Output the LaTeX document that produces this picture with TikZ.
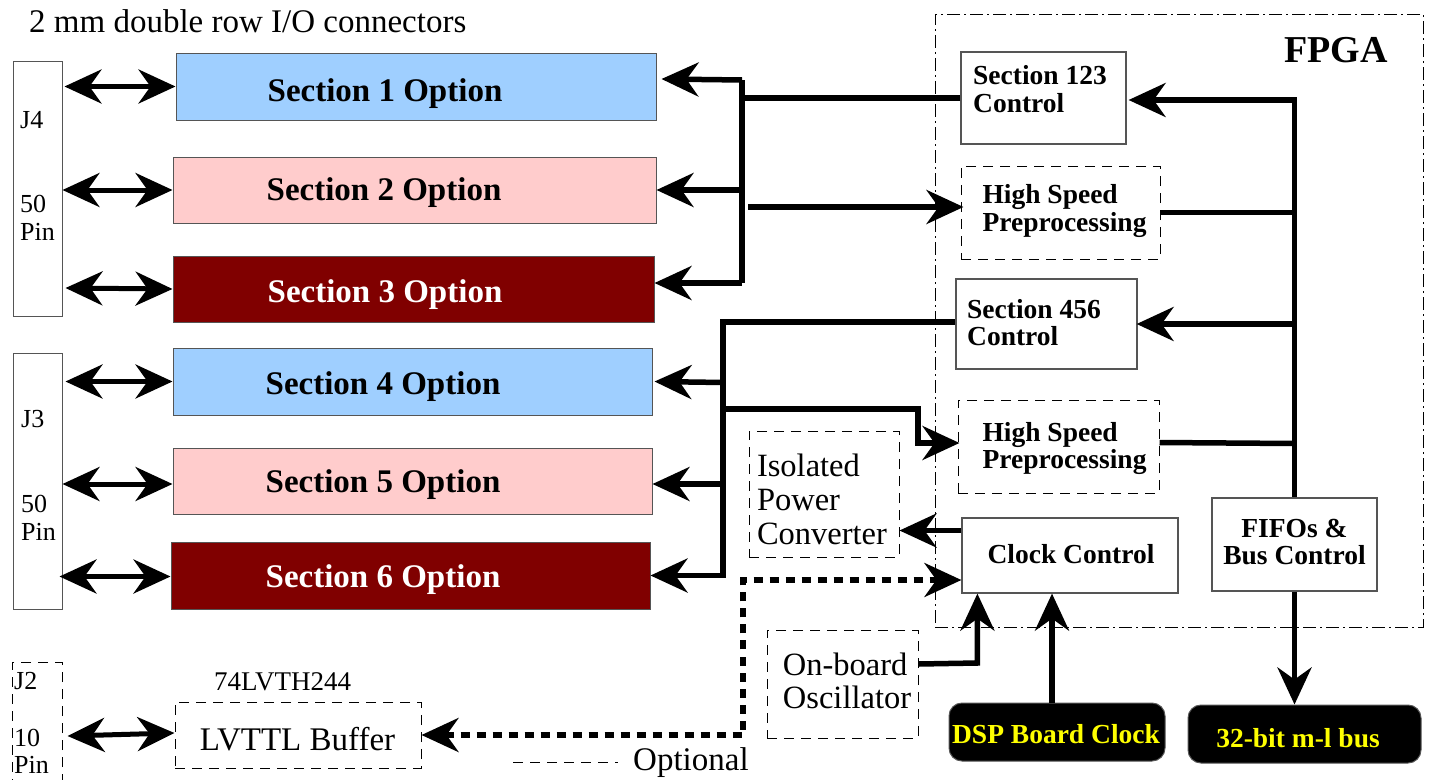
\documentclass[tikz,border=0pt]{standalone}
\usepackage{fontspec}
\setmainfont{Liberation Serif}
\usetikzlibrary{arrows.meta,calc}
\definecolor{secblue}{RGB}{159,207,255}
\definecolor{secpink}{RGB}{255,204,204}
\definecolor{secred}{RGB}{128,0,0}
\definecolor{boxgray}{RGB}{85,85,85}
\definecolor{txtyellow}{RGB}{255,255,0}
\begin{document}
\begin{tikzpicture}[x=1pt,y=-1pt,
  tip/.tip={Stealth[length=37pt,width=34pt,inset=12pt]},
  secbox/.style={draw=boxgray,line width=1pt,inner sep=0pt},
  plainbox/.style={draw=boxgray,line width=1.2pt,inner sep=0pt,fill=white},
  dashbox/.style={draw=black,line width=1pt,dash pattern=on 10pt off 7pt,inner sep=0pt},
  fpgabox/.style={draw=black,line width=1pt,dash pattern=on 13pt off 4pt on 2pt off 4pt,inner sep=0pt},
  pillbox/.style={fill=black,draw=boxgray,line width=1pt,rounded corners=13pt,inner sep=0pt},
  sectext/.style={font=\fontsize{33}{36}\selectfont\bfseries,inner sep=0pt,anchor=base},
  ctrltext/.style={font=\fontsize{27.5}{27.5}\selectfont\bfseries,inner sep=0pt,align=left},
  regtext/.style={font=\fontsize{32.5}{34}\selectfont,inner sep=0pt,align=left},
  jtext/.style={font=\fontsize{26}{27}\selectfont,inner sep=0pt,anchor=base west},
  heavy/.style={line width=5.5pt,line join=miter},
  arr/.style={heavy,-tip},
  dbl/.style={line width=5pt,tip-tip},
  dashheavy/.style={line width=5.5pt,dash pattern=on 9pt off 7pt,tip-tip}
]
\useasboundingbox (0,0) rectangle (1429,779);

% title
\node[font=\fontsize{33}{36}\selectfont,inner sep=0pt,anchor=base west] (title) at (29,32) {2 mm double row I/O connectors};

% connectors J4, J3, J2
\node[secbox,minimum width=49pt,minimum height=255pt] (j4) at (37.5,188.5) {};
\node[jtext] (j4a) at (20,128) {J4};
\node[jtext] (j4b) at (20,212) {50};
\node[jtext] (j4c) at (20,240) {Pin};
\node[secbox,minimum width=49pt,minimum height=256pt] (j3) at (37.5,481) {};
\node[jtext] (j3a) at (21,427) {J3};
\node[jtext] (j3b) at (21,512) {50};
\node[jtext] (j3c) at (21,540) {Pin};
\node[dashbox,minimum width=50pt,minimum height=140pt] (j2) at (37,732) {};
\node[jtext] (j2a) at (14,689) {J2};
\node[jtext] (j2b) at (14,746) {10};
\node[jtext] (j2c) at (14,773) {Pin};

% section boxes
\node[secbox,fill=secblue,minimum width=480pt,minimum height=67pt] (s1) at (416,86.5) {};
\node[secbox,fill=secpink,minimum width=483pt,minimum height=66pt] (s2) at (414.5,190) {};
\node[secbox,fill=secred,minimum width=481pt,minimum height=66pt] (s3) at (413.5,289) {};
\node[secbox,fill=secblue,minimum width=479pt,minimum height=67pt] (s4) at (412.5,381.5) {};
\node[secbox,fill=secpink,minimum width=479pt,minimum height=66pt] (s5) at (412.5,481) {};
\node[secbox,fill=secred,minimum width=479pt,minimum height=67pt] (s6) at (410.5,575.5) {};
\node[sectext] (s1t) at (385,101) {Section 1 Option};
\node[sectext] (s2t) at (384,200) {Section 2 Option};
\node[sectext,text=white] (s3t) at (385,302) {Section 3 Option};
\node[sectext] (s4t) at (383,394) {Section 4 Option};
\node[sectext] (s5t) at (383,492) {Section 5 Option};
\node[sectext,text=white] (s6t) at (383,587) {Section 6 Option};

% FPGA
\node[fpgabox,minimum width=488pt,minimum height=613pt] (fpga) at (1179,320.5) {};
\node[font=\fontsize{38}{40}\selectfont\bfseries,inner sep=0pt,anchor=base west] (fpgat) at (1284,62) {FPGA};

\node[plainbox,minimum width=165pt,minimum height=92pt] (c123) at (1043.5,98) {};
\node[ctrltext] (c123t) at (1040,89) {Section 123\\Control};
\node[dashbox,minimum width=199pt,minimum height=93pt] (hsp1) at (1060.5,212.5) {};
\node[ctrltext] (hsp1t) at (1064.5,211) {High Speed\\Preprocessing};
\node[plainbox,minimum width=181pt,minimum height=90pt] (c456) at (1046.5,324) {};
\node[ctrltext] (c456t) at (1034,322.5) {Section 456\\Control};
\node[dashbox,minimum width=201pt,minimum height=93pt] (hsp2) at (1058.5,446.5) {};
\node[ctrltext] (hsp2t) at (1064.5,448.5) {High Speed\\Preprocessing};
\node[plainbox,minimum width=216pt,minimum height=75pt] (clk) at (1070,555.5) {};
\node[ctrltext,anchor=base] (clkt) at (1071,563) {Clock Control};
\node[plainbox,minimum width=165pt,minimum height=93pt] (fifo) at (1294.5,544.5) {};
\node[ctrltext,align=center] (fifot) at (1294.5,542) {FIFOs \&\\Bus Control};

% external
\node[pillbox,minimum width=216pt,minimum height=58pt] (dsp) at (1057,732) {};
\node[ctrltext,anchor=base,text=txtyellow] (dspt) at (1056,743) {DSP Board Clock};
\node[pillbox,minimum width=233pt,minimum height=58pt] (bus32) at (1304.5,734) {};
\node[ctrltext,anchor=base,text=txtyellow] (bus32t) at (1298,747) {32-bit m-l bus};

\node[dashbox,minimum width=150pt,minimum height=126pt] (iso) at (824,494) {};
\node[regtext] (isot) at (822,499) {Isolated\\Power\\Converter};
\node[dashbox,minimum width=151pt,minimum height=108pt] (osc) at (842.5,684) {};
\node[regtext,font=\fontsize{32.5}{33}\selectfont] (osct) at (847,680.5) {On-board\\Oscillator};
\node[dashbox,minimum width=246pt,minimum height=66pt] (lvttl) at (298,735) {};
\node[regtext,anchor=base,font=\fontsize{33}{36}\selectfont] (lvttlt) at (297.5,750) {LVTTL Buffer};
\node[inner sep=0pt,anchor=base,font=\fontsize{27}{29}\selectfont] (chip) at (282.5,690) {74LVTH244};

% legend
\node[inner sep=0pt,anchor=base west,font=\fontsize{33}{36}\selectfont] (opt) at (633,770) {Optional};
\coordinate (legA) at (513,762);
\draw[line width=1pt,dash pattern=on 10pt off 7pt] (legA) -- ($(legA -| opt.west)+(-15,0)$);

% left double arrows
\draw[dbl] ($(j4.east |- s1.west)+(2,0)$) -- (s1.west);
\draw[dbl] (j4.east |- s2.west) -- (s2.west);
\draw[dbl] ($(j4.east |- s3.west)+(3,-1)$) -- (s3.west);
\draw[dbl] ($(j3.east |- s4.west)+(3,0)$) -- (s4.west);
\draw[dbl] ($(j3.east |- s5.west)+(0,3)$) -- ($(s5.west)+(0,3)$);
\draw[dbl] ($(j3.east |- s6.west)+(-3,1)$) -- ($(s6.west)+(0,1)$);
\draw[dbl] ($(j2.east |- lvttl.west)+(5,1)$) -- ($(lvttl.west)+(0,-2)$);

% bus for sections 1-3
\coordinate (bA) at (742,0);
\draw[heavy] (c123.west) -- (c123.west -| bA);
\draw[heavy] ($(bA |- s1.east)+(0,-6.5)$) -- ($(bA |- s3.east)+(0,-6)$);
\draw[arr] ($(bA |- s1.east)+(0,-6.5)$) -- ($(s1.east)+(5,-7.5)$);
\draw[arr] (bA |- s2.east) -- (s2.east);
\draw[arr] ($(bA |- s3.east)+(0,-6)$) -- ($(s3.east)+(0,-6)$);
\draw[arr] ($(bA |- hsp1.west)+(6,-5.5)$) -- ($(hsp1.west)+(3,-5.5)$);

% FPGA internal bus
\coordinate (bBtop) at ($(fifo.north |- c123.east)+(0,2)$);
\draw[heavy,tip-] ($(c123.east)+(2,2)$) -- (bBtop) -- (fifo.north);
\draw[heavy] (hsp1.east) -- (hsp1.east -| fifo.north);
\draw[arr] (c456.east -| fifo.north) -- ($(c456.east)+(-1,0)$);
\draw[heavy] ($(hsp2.east)+(0,-4)$) -- ($(hsp2.east -| fifo.north)+(0,-3)$);
\draw[arr] (fifo.south) -- (fifo.south |- bus32.north);

% bus for sections 4-6
\coordinate (bC) at (723,0);
\draw[arr] ($(c456.west)+(0,-2)$) -- ($(bC |- c456.west)+(0,-2)$) -- (bC |- s6.east) -- (s6.east);
\draw[arr] ($(bC |- s4.east)+(0,1)$) -- ($(s4.east)+(2,0)$);
\draw[arr] ($(bC |- s5.east)+(0,3)$) -- ($(s5.east)+(0,3)$);
\coordinate (kneeA) at (918,409);
\coordinate (hsp2tip) at ($(hsp2.west)+(2,-3.5)$);
\draw[arr] (bC |- kneeA) -- (kneeA) -- (kneeA |- hsp2tip) -- (hsp2tip);

% clock area
\coordinate (clkA) at ($(clk.west)+(0,-25)$);
\draw[arr] (clkA) -- (clkA -| iso.east);
\coordinate (clkB) at ($(clk.west)+(0,24.5)$);
\coordinate (dX) at (743,0);
\draw[dashheavy] (lvttl.east) -- (dX |- lvttl.east) -- (dX |- clkB) -- (clkB);
\coordinate (oscA) at ($(osc.east)+(0,-20)$);
\coordinate (clkC) at ($(clk.south west)+(16,0)$);
\draw[arr] (oscA) -- ($(oscA -| clkC)+(0,-1)$) -- (clkC);
\coordinate (dspA) at ($(dsp.north)+(-5,0)$);
\draw[arr] (dspA) -- (dspA |- clk.south);
\end{tikzpicture}
\end{document}
